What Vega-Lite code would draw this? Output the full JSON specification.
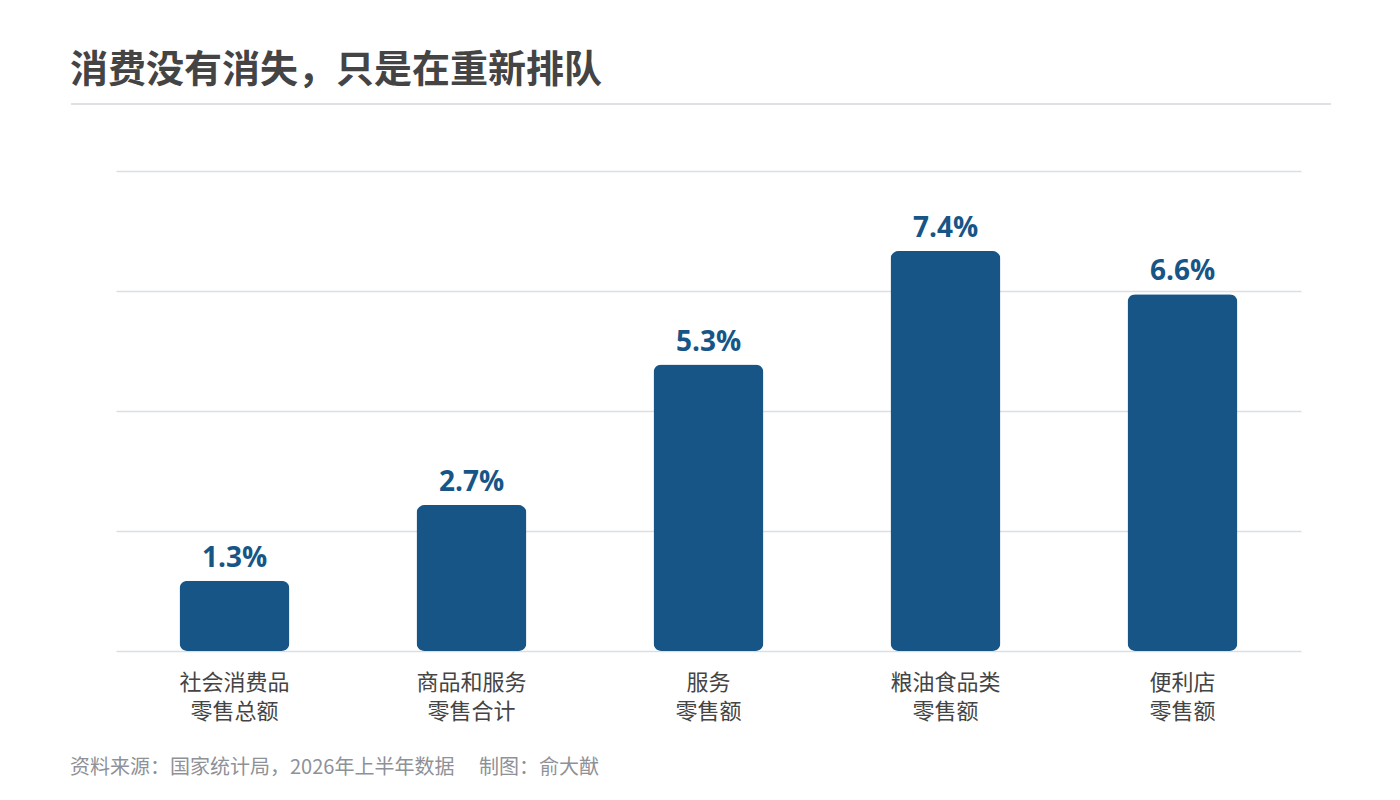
{
  "$schema": "https://vega.github.io/schema/vega-lite/v6.json",
  "description": "消费没有消失，只是在重新排队",
  "background": "white",
  "padding": {"left": 70, "top": 52, "right": 70, "bottom": 10},
  "config": {
    "font": "Noto Sans CJK SC",
    "view": {"stroke": null}
  },
  "title": {
    "text": "资料来源：国家统计局，2026年上半年数据　 制图：俞大猷",
    "orient": "bottom",
    "anchor": "start",
    "frame": "bounds",
    "fontSize": 20,
    "fontWeight": "normal",
    "color": "#8e9197",
    "offset": 36
  },
  "spacing": 66,
  "vconcat": [
    {
      "width": 1260,
      "height": 2,
      "title": {
        "text": "消费没有消失，只是在重新排队",
        "anchor": "start",
        "fontSize": 38,
        "fontWeight": "bold",
        "color": "#444444",
        "offset": 12
      },
      "data": {"values": [{}]},
      "mark": {"type": "rule", "color": "#dfe1e4", "strokeWidth": 2},
      "encoding": {
        "y": {"datum": 0, "type": "quantitative", "scale": {"domain": [0, 1]}, "axis": null}
      }
    },
    {
      "spacing": 0,
      "hconcat": [
        {
          "width": 45,
          "height": 480,
          "data": {"values": [{}]},
          "mark": {"type": "point", "opacity": 0}
        },
        {
          "width": 1185,
          "height": 480,
          "data": {
            "values": [
              {"cat": "社会消费品|零售总额", "v": 1.3, "label": "1.3%"},
              {"cat": "商品和服务|零售合计", "v": 2.7, "label": "2.7%"},
              {"cat": "服务|零售额", "v": 5.3, "label": "5.3%"},
              {"cat": "粮油食品类|零售额", "v": 7.4, "label": "7.4%"},
              {"cat": "便利店|零售额", "v": 6.6, "label": "6.6%"}
            ]
          },
          "encoding": {
            "x": {
              "field": "cat",
              "type": "nominal",
              "sort": null,
              "scale": {"paddingInner": 0.536, "paddingOuter": 0.268},
              "axis": {
                "title": null,
                "labelAngle": 0,
                "labelExpr": "split(datum.label, '|')",
                "labelFontSize": 22,
                "labelLineHeight": 29,
                "labelColor": "#444444",
                "labelPadding": 21,
                "ticks": false,
                "domain": false
              }
            },
            "y": {
              "field": "v",
              "type": "quantitative",
              "scale": {"domain": [0, 8.88]},
              "axis": {
                "values": [0, 2.22, 4.44, 6.66, 8.88],
                "title": null,
                "labels": false,
                "ticks": false,
                "domain": false,
                "grid": true,
                "gridColor": "#dcdee1",
                "gridWidth": 1.5
              }
            }
          },
          "layer": [
            {"mark": {"type": "bar", "color": "#175587", "cornerRadius": 8}},
            {
              "mark": {
                "type": "text",
                "baseline": "alphabetic",
                "dy": -14,
                "font": "Open Sans",
                "fontSize": 28,
                "fontWeight": "bold",
                "color": "#175587"
              },
              "encoding": {"text": {"field": "label"}}
            }
          ]
        }
      ]
    }
  ]
}
